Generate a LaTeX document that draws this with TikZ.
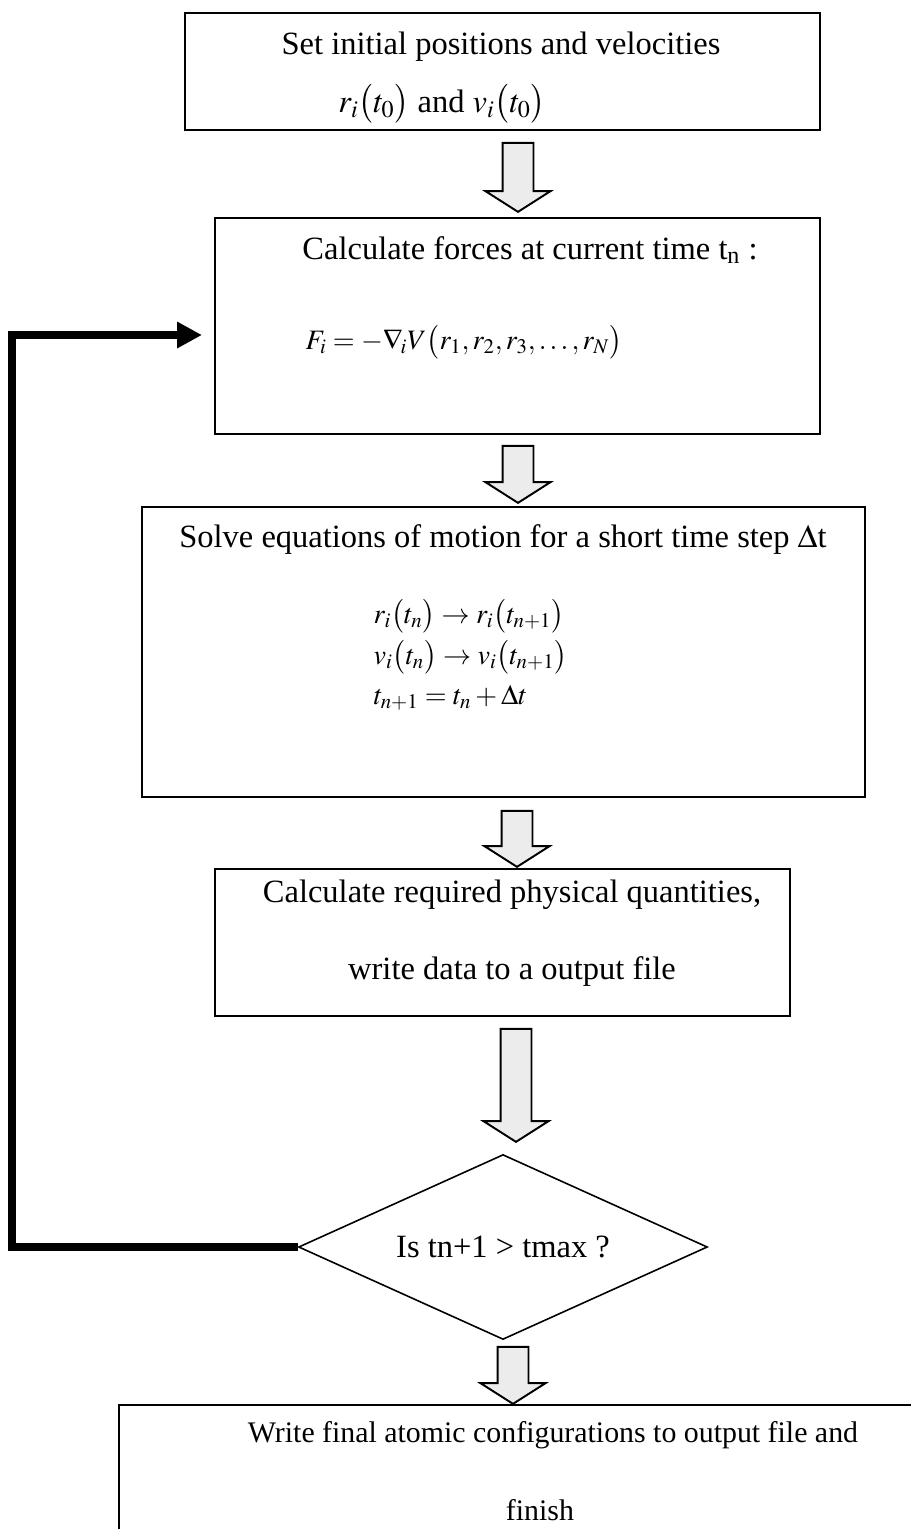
\documentclass[tikz,border=0pt]{standalone}
\usepackage{mathptmx}
\usepackage{fontspec}
\setmainfont{Liberation Serif}
\usetikzlibrary{arrows.meta,shapes.geometric,shapes.arrows}
\tikzset{
  box/.style={draw,rectangle,line width=0.9pt,inner sep=0pt},
  txt/.style={inner sep=0pt,font=\fontsize{18.5}{22}\selectfont},
  eqn/.style={inner sep=0pt,anchor=west,font=\fontsize{16}{19}\selectfont},
  fatarrow/.style={single arrow,draw,line width=1.1pt,fill=gray!15,shape border rotate=270,
    inner xsep=0.29cm,inner ysep=0pt,single arrow head extend=0.34cm,
    single arrow tip angle=115,anchor=tip},
  decision/.style={draw,diamond,line width=0.9pt,inner sep=0pt,aspect=2.2,
    minimum width=8.18cm,minimum height=3.7cm,font=\fontsize{18.5}{22}\selectfont},
  loopline/.style={line width=4.5pt,-{Triangle[length=0.5cm,width=0.5cm]}}
}

\begin{document}
\begin{tikzpicture}[>=Stealth,thick,x=0.02cm,y=-0.02cm]
  \useasboundingbox (0,0) rectangle (911,1529);
  \clip (0,0) rectangle (911,1529);

  % boxes
  \node[box,minimum width=12.7cm,minimum height=2.34cm] (init) at (502.5,71.5) {};
  \node[box,minimum width=12.1cm,minimum height=4.32cm] (force) at (517.5,326) {};
  \node[box,minimum width=14.46cm,minimum height=5.8cm] (solve) at (503.5,652) {};
  \node[box,minimum width=11.5cm,minimum height=2.94cm] (calc) at (502.5,942.5) {};
  \node[decision] (dec) at (503,1247) {Is tn+1 > tmax ?};
  \node[box,minimum width=16.64cm,minimum height=3.1cm] (final) at (535,1482.5) {};

  % texts
  \node[txt] (initA) at (501,47) {Set initial positions and velocities};
  \node[txt] (initB) at (442,104) {$r_i\big(t_0\big)$ and $v_i\big(t_0\big)$};
  \node[txt] (forceA) at (530,250) {Calculate forces at current time t\textsubscript{n} :};
  \node[eqn] (forceB) at (305,342) {$F_i=-\nabla_{\!i}V\big(r_1,r_2,r_3,\ldots,r_N\big)$};
  \node[txt] (solveA) at (503,540) {Solve equations of motion for a short time step $\Delta$t};
  \node[eqn] (eqr) at (373,616) {$r_i\big(t_n\big)\rightarrow r_i\big(t_{n+1}\big)$};
  \node[eqn] (eqv) at (373,657) {$v_i\big(t_n\big)\rightarrow v_i\big(t_{n+1}\big)$};
  \node[eqn] (eqt) at (373,698) {$t_{n+1}=t_n+\Delta t$};
  \node[txt] (calcA) at (512,895) {Calculate required physical quantities,};
  \node[txt] (calcB) at (512,972) {write data to a output file};
  \node[txt,font=\fontsize{17}{20}\selectfont] (finalA) at (553,1435) {Write final atomic configurations to output file and};
  \node[txt,font=\fontsize{17}{20}\selectfont] (finalB) at (540,1510) {finish};

  % block arrows
  \node[fatarrow,minimum height=1.38cm] (a1) at (518,213) {};
  \node[fatarrow,minimum height=1.14cm] (a2) at (518,504) {};
  \node[fatarrow,minimum height=1.12cm] (a3) at (517,868) {};
  \node[fatarrow,minimum height=2.26cm] (a4) at (516,1143) {};
  \node[fatarrow,minimum height=1.14cm] (a5) at (513,1405) {};

  % loop back
  \coordinate (corner) at (12,1247);
  \coordinate (loopin) at (202,335);
  \draw[loopline] (dec.west) -- (corner) |- (loopin);
\end{tikzpicture}
\end{document}
